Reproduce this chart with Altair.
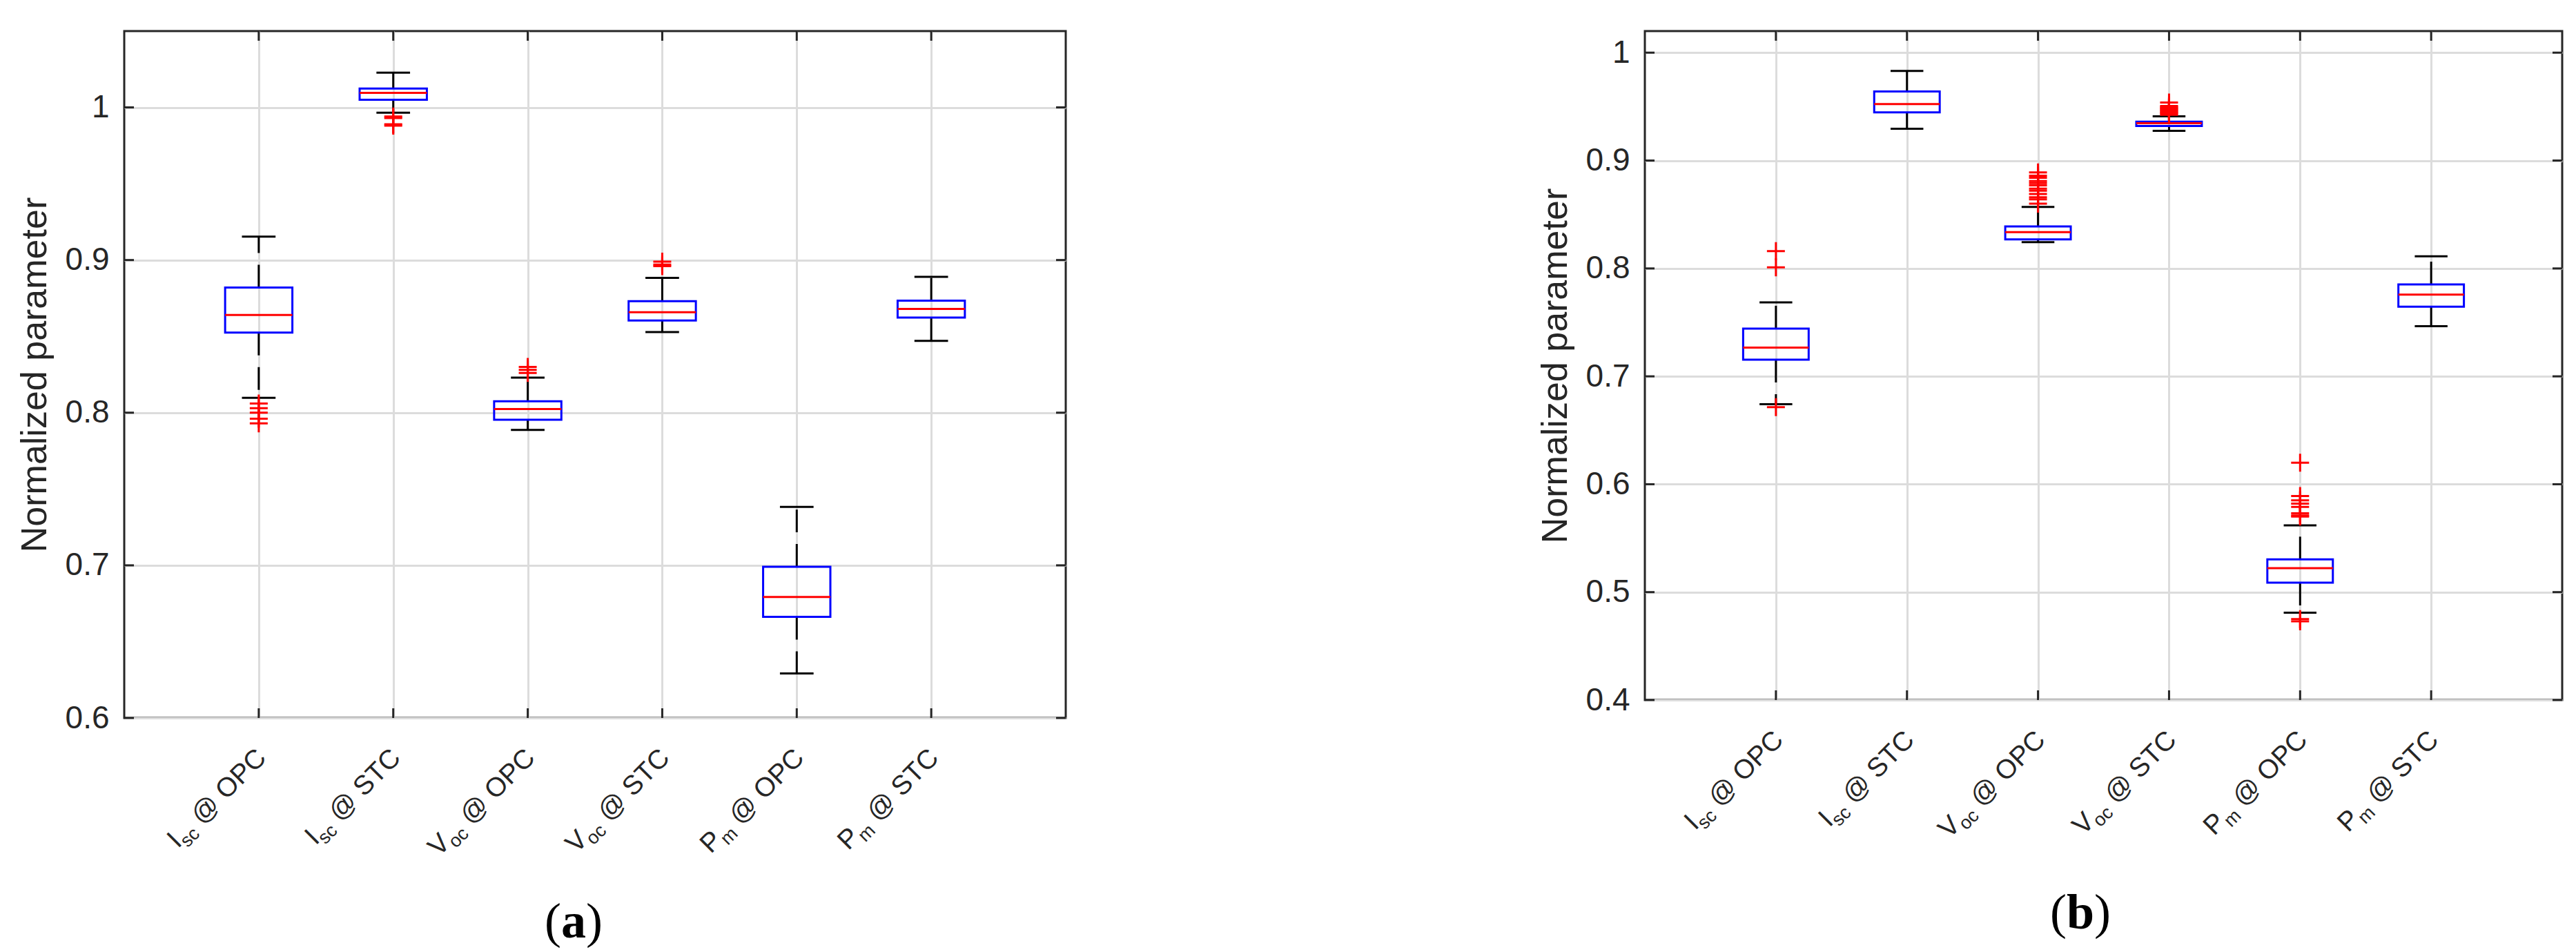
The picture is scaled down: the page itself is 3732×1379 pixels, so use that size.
import altair as alt
import pandas as pd

# ---------------- data ----------------
positions = [1, 2, 3, 4, 5, 6]
label_main = ["I", "I", "V", "V", "P", "P"]
label_sub = ["sc", "sc", "oc", "oc", "m", "m"]
label_cond = ["OPC", "STC", "OPC", "STC", "OPC", "STC"]

# panel (a)
a_low = [0.8097, 0.9965, 0.7887, 0.8528, 0.6292, 0.8471]
a_q1 = [0.8525, 1.0050, 0.7954, 0.8604, 0.6663, 0.8623]
a_med = [0.8640, 1.0095, 0.8024, 0.8658, 0.6793, 0.8680]
a_q3 = [0.8820, 1.0124, 0.8075, 0.8731, 0.6990, 0.8734]
a_high = [0.9153, 1.0228, 0.8230, 0.8883, 0.7383, 0.8890]
a_out = [[0.806, 0.803, 0.800, 0.796, 0.793],
         [0.994, 0.993, 0.989, 0.988],
         [0.830, 0.828, 0.826],
         [0.899, 0.897, 0.896],
         [],
         []]
a_yticks = [0.6, 0.7, 0.8, 0.9, 1.0]

# panel (b)
b_low = [0.6742, 0.9294, 0.8243, 0.9276, 0.4810, 0.7465]
b_q1 = [0.7155, 0.9447, 0.8270, 0.9320, 0.5088, 0.7645]
b_med = [0.7267, 0.9524, 0.8337, 0.9346, 0.5222, 0.7757]
b_q3 = [0.7443, 0.9640, 0.8390, 0.9360, 0.5303, 0.7852]
b_high = [0.7685, 0.9830, 0.8570, 0.9410, 0.5618, 0.8112]
b_out = [[0.816, 0.801, 0.6715],
         [],
         [0.889, 0.886, 0.884, 0.881, 0.879, 0.877, 0.874, 0.872, 0.869, 0.866, 0.864, 0.860],
         [0.9538, 0.9505, 0.9495, 0.9485, 0.9475, 0.9465, 0.9455, 0.9445, 0.9435, 0.9425],
         [0.620, 0.589, 0.585, 0.582, 0.579, 0.573, 0.571, 0.570, 0.475, 0.473],
         []]
b_yticks = [0.4, 0.5, 0.6, 0.7, 0.8, 0.9, 1.0]

# ---------------- style ----------------
FONT = "Liberation Sans"
SERIF = "Liberation Serif"
DARK = "#262626"
GRID = "#dcdcdc"
LBL = 39
SUB = 27
ANGLE = 315
ARIAL = {" ": 0.278, "@": 1.015, "O": 0.778, "P": 0.667, "C": 0.722, "S": 0.667,
         "T": 0.611, "s": 0.5, "c": 0.5, "o": 0.556, "m": 0.833}


def tw(s, size):
    return sum(ARIAL[ch] for ch in s) * size


PLUS = "M-1,0L1,0M0,-1L0,1"


def panel(low, q1, med, q3, high, outs, ymin, ymax, yticks, W, H,
          letter, cap_x, cap_y, top_spacer=None):
    df = pd.DataFrame({"pos": positions, "low": low, "q1": q1, "med": med,
                       "q3": q3, "high": high})
    odf = pd.DataFrame([{"pos": p, "v": v} for p, vs in zip(positions, outs) for v in vs])
    tdf = pd.DataFrame({"v": yticks})
    xs = alt.Scale(domain=[0, 7], nice=False, zero=False)
    ys = alt.Scale(domain=[ymin, ymax], nice=False, zero=False)
    xaxis = alt.Axis(values=positions, labels=False, ticks=False, domain=False,
                     grid=True, gridColor=GRID, gridWidth=3, title=None)
    yaxis = alt.Axis(values=yticks, format=".1~f", ticks=False, domain=False,
                     grid=True, gridColor=GRID, gridWidth=3,
                     labelFont=FONT, labelFontSize=46, labelColor=DARK,
                     labelPadding=22,
                     title="Normalized parameter", titleFont=FONT,
                     titleFontSize=52, titleFontWeight="normal",
                     titleColor=DARK, titlePadding=17)

    def X(f):
        return alt.X(f, type="quantitative", scale=xs, axis=xaxis)

    def Y(f):
        return alt.Y(f, type="quantitative", scale=ys, axis=yaxis)

    base = alt.Chart(df).transform_calculate(
        xl="datum.pos - 0.25", xr="datum.pos + 0.25",
        cl="datum.pos - 0.125", cr="datum.pos + 0.125")

    layers = []
    # whiskers (dashed)
    layers.append(base.mark_rule(color="black", strokeWidth=3, strokeDash=[33, 17])
                  .encode(x=X("pos"), y=Y("q3"), y2="high"))
    layers.append(base.mark_rule(color="black", strokeWidth=3, strokeDash=[33, 17])
                  .encode(x=X("pos"), y=Y("q1"), y2="low"))
    # caps
    layers.append(base.mark_rule(color="black", strokeWidth=3)
                  .encode(x=X("cl"), x2="cr", y=Y("high")))
    layers.append(base.mark_rule(color="black", strokeWidth=3)
                  .encode(x=X("cl"), x2="cr", y=Y("low")))
    # box
    layers.append(base.mark_rect(fillOpacity=0, stroke="#0000ff", strokeWidth=3)
                  .encode(x=X("xl"), x2="xr", y=Y("q1"), y2="q3"))
    # median
    layers.append(base.mark_rule(color="#ff0000", strokeWidth=3)
                  .encode(x=X("xl"), x2="xr", y=Y("med")))
    # outliers
    layers.append(alt.Chart(odf).mark_point(shape=PLUS, filled=False, stroke="#ff0000",
                                            strokeWidth=3, size=676, opacity=1)
                  .encode(x=X("pos"), y=Y("v")))
    # inward ticks
    layers.append(alt.Chart(tdf).mark_rule(color=DARK, strokeWidth=3)
                  .encode(y=Y("v"), x=alt.value(0), x2=alt.value(14)))
    layers.append(alt.Chart(tdf).mark_rule(color=DARK, strokeWidth=3)
                  .encode(y=Y("v"), x=alt.value(W), x2=alt.value(W - 14)))
    layers.append(base.mark_rule(color=DARK, strokeWidth=3)
                  .encode(x=X("pos"), y=alt.value(H), y2=alt.value(H - 14)))
    layers.append(base.mark_rule(color=DARK, strokeWidth=3)
                  .encode(x=X("pos"), y=alt.value(0), y2=alt.value(14)))
    # x tick labels with subscripts (rotated)
    sdx, sdy = 9, 9
    ly = H + 60
    for i in range(6):
        rest = " @ " + label_cond[i]
        w_rest = tw(rest, LBL)
        w_sub = tw(label_sub[i], SUB)
        ldf = pd.DataFrame({"pos": [positions[i]], "main": [label_main[i]],
                            "sub": [label_sub[i]], "rest": [rest]})
        lc = alt.Chart(ldf)
        common = dict(font=FONT, color=DARK, angle=ANGLE, align="right",
                      baseline="alphabetic")
        layers.append(lc.mark_text(fontSize=LBL, dx=sdx, dy=sdy, **common)
                      .encode(x=X("pos"), y=alt.value(ly), text="rest:N"))
        layers.append(lc.mark_text(fontSize=SUB, dx=sdx - w_rest, dy=sdy + 9, **common)
                      .encode(x=X("pos"), y=alt.value(ly), text="sub:N"))
        layers.append(lc.mark_text(fontSize=LBL, dx=sdx - w_rest - w_sub, dy=sdy, **common)
                      .encode(x=X("pos"), y=alt.value(ly), text="main:N"))
    # caption "(a)" / "(b)"
    cdf = pd.DataFrame({"l": [letter]})
    cc = alt.Chart(cdf)
    half = 18 if letter == "a" else 20
    layers.append(cc.mark_text(font=SERIF, fontSize=72, fontWeight="bold", color="black",
                               align="center", baseline="alphabetic")
                  .encode(x=alt.value(cap_x), y=alt.value(cap_y), text="l:N"))
    layers.append(cc.mark_text(font=SERIF, fontSize=72, color="black", text="(",
                               align="right", baseline="alphabetic", dx=-half)
                  .encode(x=alt.value(cap_x), y=alt.value(cap_y)))
    layers.append(cc.mark_text(font=SERIF, fontSize=72, color="black", text=")",
                               align="left", baseline="alphabetic", dx=half)
                  .encode(x=alt.value(cap_x), y=alt.value(cap_y)))
    if top_spacer is not None:
        layers.append(cc.mark_text(text=".", fontSize=1, opacity=0, baseline="top")
                      .encode(x=alt.value(0), y=alt.value(top_spacer)))
    return alt.layer(*layers).properties(width=W, height=H)


pa = panel(a_low, a_q1, a_med, a_q3, a_high, a_out, 0.6, 1.05, a_yticks,
           1364, 995, "a", 651, 1313)
pb = panel(b_low, b_q1, b_med, b_q3, b_high, b_out, 0.4, 1.02, b_yticks,
           1329, 969, "b", 631, 1300, top_spacer=-15.5)

chart = (alt.hconcat(pa, pb, spacing=678)
         .properties(padding={"left": 14, "top": 20, "right": 5, "bottom": 5},
                     background="white")
         .configure_view(stroke=DARK, strokeWidth=3))

chart.save("out.html", embed_options={"renderer": "svg", "actions": False})
